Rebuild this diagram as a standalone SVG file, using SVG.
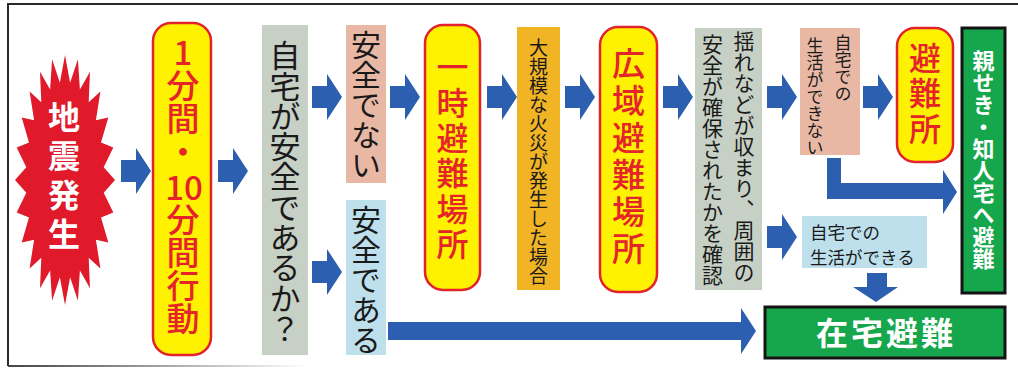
<svg xmlns="http://www.w3.org/2000/svg" width="1018" height="372" viewBox="0 0 1018 372">
<defs>
<style>
text{font-family:"Noto Sans CJK JP","Noto Sans",sans-serif;}
.v{writing-mode:vertical-rl;text-orientation:upright;}
.gray{fill:#c7d0c4;}
.pink{fill:#e8b8a5;}
.lblue{fill:#bde0ec;}
.orange{fill:#f0b425;}
.yel{fill:#fff200;stroke:#e3232c;stroke-width:2.5;}
.grn{fill:#16a64b;stroke:#141414;stroke-width:3;}
.red{fill:#e5232b;font-weight:500;}
.blk{fill:#1a1a1a;}
.wht{fill:#ffffff;font-weight:700;}
.arrow{fill:#2d5fb0;}
</style>
<path id="arr" d="M0,-11 H15 V-23 L30,0 L15,23 V11 H0 Z"/>
<linearGradient id="fade" x1="0" x2="1" y1="0" y2="0">
<stop offset="0" stop-color="#444"/>
<stop offset="1" stop-color="#444" stop-opacity="0"/>
</linearGradient>
</defs>
<rect width="1018" height="372" fill="#ffffff"/>
<g id="frame">
<path d="M1018,4 H8 V366" fill="none" stroke="#2a2a2a" stroke-width="2"/>
<rect x="8" y="365" width="300" height="2" fill="url(#fade)"/>
</g>
<g id="quake">
<polygon fill="#e01a2b" points="65,55 70.1,82.8 77.9,59.3 79.9,89.5 90,71.7 88.7,102.2 100.4,91.6 95.9,120.3 108.3,117.5 101,142.5 113.3,147.6 103.7,167.2 115,180 103.7,192.8 113.3,212.4 101,217.5 108.3,242.5 95.9,239.7 100.4,268.4 88.7,257.8 90,288.3 79.9,270.5 77.9,300.7 70.1,277.2 65,305 59.9,277.2 52.1,300.7 50.1,270.5 40,288.3 41.3,257.8 29.6,268.4 34.1,239.7 21.7,242.5 29,217.5 16.7,212.4 26.3,192.8 15,180 26.3,167.2 16.7,147.6 29,142.5 21.7,117.5 34.1,120.3 29.6,91.6 41.3,102.2 40,71.7 50.1,89.5 52.1,59.3 59.9,82.8"/>
<text class="v wht" x="64" y="101" font-size="32" letter-spacing="7">地震発生</text>
</g>
<g id="act">
<rect class="yel" x="153" y="23" width="58" height="332" rx="18"/>
<text class="v red" x="183" y="35.5" font-size="33">1分間・</text>
<text class="red" x="184" y="200" font-size="33" text-anchor="middle">10</text>
<text class="v red" x="183" y="202.5" font-size="33">分間行動</text>
</g>
<g id="check">
<rect class="gray" x="262" y="25" width="46" height="330"/>
<text class="v blk" x="285" y="40" font-size="31" letter-spacing="-0.7">自宅が安全であるか？</text>
</g>
<g id="unsafe">
<rect class="pink" x="346" y="25" width="40" height="158"/>
<text class="v blk" x="366" y="30" font-size="30">安全でない</text>
</g>
<g id="safe">
<rect class="lblue" x="346" y="200" width="40" height="155"/>
<text class="v blk" x="366" y="205" font-size="30">安全である</text>
</g>
<g id="temp">
<rect class="yel" x="425" y="25" width="55" height="265" rx="18"/>
<text class="v red" x="452.5" y="51" font-size="32" letter-spacing="3.4">一時避難場所</text>
</g>
<g id="fire">
<rect class="orange" x="517" y="27" width="43" height="263"/>
<text class="v blk" x="538.5" y="38" font-size="19">大規模な火災が発生した場合</text>
</g>
<g id="wide">
<rect class="yel" x="600" y="27" width="57" height="265" rx="18"/>
<text class="v red" x="628.5" y="47" font-size="33" letter-spacing="4">広域避難場所</text>
</g>
<g id="confirm">
<rect class="gray" x="695" y="28" width="67" height="262"/>
<text class="v blk" x="744" y="30.5" font-size="21">揺れなどが収まり、周囲の</text>
<text class="v blk" x="712.5" y="33.5" font-size="21">安全が確保されたかを確認</text>
</g>
<g id="cannot">
<rect class="pink" x="800" y="28" width="60" height="127"/>
<text class="v blk" x="843" y="34.5" font-size="17">自宅での</text>
<text class="v blk" x="815" y="37.5" font-size="17">生活ができない</text>
</g>
<g id="shelter">
<rect class="yel" x="897" y="28" width="56" height="134" rx="18"/>
<text class="v red" x="925" y="41.5" font-size="32" letter-spacing="3.7">避難所</text>
</g>
<g id="relatives">
<rect class="grn" x="962" y="28" width="43" height="265"/>
<text class="v wht" x="983.5" y="50" font-size="22">親せき・知人宅へ避難</text>
</g>
<g id="can">
<rect class="lblue" x="802" y="216" width="125" height="52"/>
<text class="blk" x="810" y="238.5" font-size="17.5">自宅での</text>
<text class="blk" x="810" y="264" font-size="17.5">生活ができる</text>
</g>
<g id="home">
<rect class="grn" x="765" y="307" width="240" height="51"/>
<text class="wht" x="886" y="345" font-size="32" letter-spacing="3" text-anchor="middle">在宅避難</text>
</g>
<g id="connectors" class="arrow">
<use href="#arr" x="121" y="171"/>
<use href="#arr" x="218" y="171"/>
<use href="#arr" x="312" y="97"/>
<use href="#arr" x="312" y="272"/>
<use href="#arr" x="390" y="97"/>
<use href="#arr" x="487" y="97"/>
<use href="#arr" x="565" y="97"/>
<use href="#arr" x="663" y="97"/>
<use href="#arr" x="767" y="97"/>
<use href="#arr" x="863" y="97"/>
<use href="#arr" x="767" y="237"/>
<path d="M388,322 H741 V308 L756,331 L741,354 V340 H388 Z"/>
<path d="M827,158 H841 V183 H943 V170 L957,192 L943,214 V199 H827 Z"/>
<path d="M867,273 H887 V287 H898 L876,302 L853,287 H867 Z"/>
</g>
</svg>
